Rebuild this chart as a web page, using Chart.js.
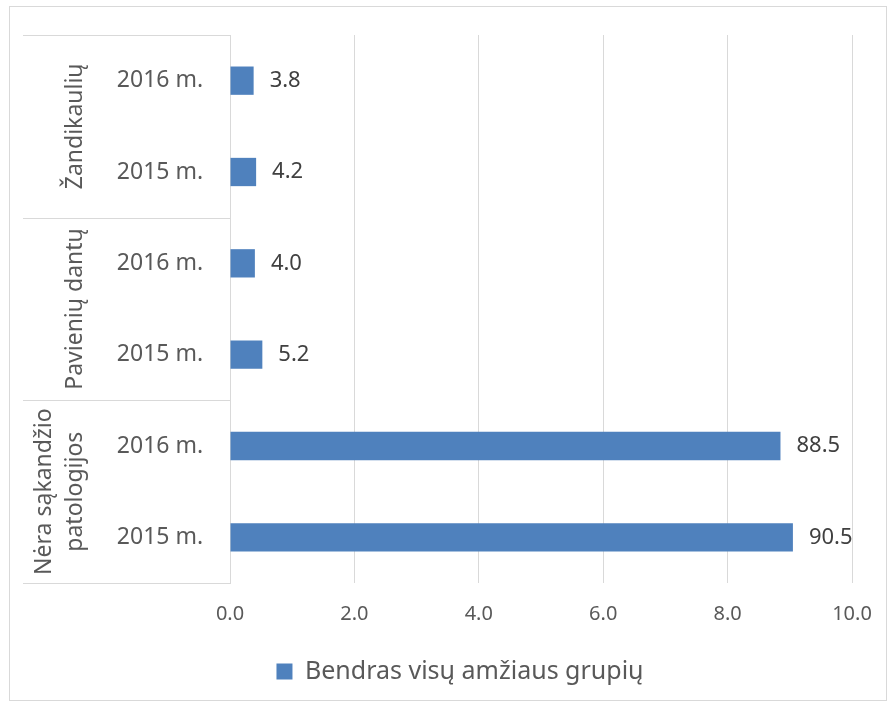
<!DOCTYPE html>
<html>
<head>
<meta charset="utf-8">
<script src="https://cdn.jsdelivr.net/npm/chart.js@4.4.1/dist/chart.umd.min.js"></script>
<style>
  html, body { margin: 0; padding: 0; background: #fff; }
  #wrap { width: 891px; height: 706px; }
</style>
</head>
<body>
<div id="wrap"><canvas id="chart"></canvas></div>
<script>
// groups from bottom to top, years inside each group
const groups = ['Nėra sąkandžio patologijos', 'Pavienių dantų', 'Žandikaulių'];
const groupLines = [['Nėra sąkandžio', 'patologijos'], ['Pavienių dantų'], ['Žandikaulių']];
const years = ['2015 m.', '2016 m.'];
// shown values (%), one per group x year
const values = [90.5, 88.5, 5.2, 4.0, 4.2, 3.8];
const xTicks = [0, 2, 4, 6, 8, 10];
const seriesName = 'Bendras visų amžiaus grupių';

const FONT = "'Noto Sans', 'Open Sans', sans-serif";
const TEXT = '#595959';
const GRID = '#d9d9d9';
const BAR = '#4f81bd';

const labels = [];
groups.forEach(g => years.forEach(y => labels.push(y)));

// the original axis runs 0..10, bars drawn at value / 10
const barData = values.map(v => v / 10);

// frame, group separators, group + year labels, value labels
const decor = {
    id: 'decor',
    beforeDraw(chart) {
        const ctx = chart.ctx;
        ctx.save();
        ctx.strokeStyle = GRID;
        ctx.lineWidth = 1;
        ctx.strokeRect(9.5, 6.5, 877, 694);
        ctx.restore();
    },
    afterDraw(chart) {
        const ctx = chart.ctx;
        const y = chart.scales.y;
        const area = chart.chartArea;
        const n = labels.length;
        ctx.save();

        // separators between groups
        ctx.strokeStyle = GRID;
        ctx.lineWidth = 1;
        const bounds = [area.bottom];
        for (let g = 1; g < groups.length; g++) {
            const i = g * years.length;
            bounds.push((y.getPixelForValue(i - 1) + y.getPixelForValue(i)) / 2);
        }
        bounds.push(area.top);
        bounds.forEach(b => {
            const yy = Math.round(b) + 0.5;
            ctx.beginPath();
            ctx.moveTo(23, yy);
            ctx.lineTo(area.left, yy);
            ctx.stroke();
        });

        // year labels
        ctx.fillStyle = TEXT;
        ctx.font = '23px ' + FONT;
        ctx.textAlign = 'center';
        ctx.textBaseline = 'middle';
        for (let i = 0; i < n; i++) {
            ctx.fillText(labels[i], 160, y.getPixelForValue(i));
        }

        // group labels, rotated
        ctx.textBaseline = 'alphabetic';
        groupLines.forEach((lines, g) => {
            const mid = (bounds[g] + bounds[g + 1]) / 2;
            ctx.save();
            ctx.translate(0, mid);
            ctx.rotate(-Math.PI / 2);
            const base = lines.length === 1 ? [82] : [51, 82];
            lines.forEach((t, k) => ctx.fillText(t, 0, base[k]));
            ctx.restore();
        });

        // value labels
        ctx.fillStyle = '#404040';
        ctx.font = '22px ' + FONT;
        ctx.textAlign = 'left';
        ctx.textBaseline = 'middle';
        chart.getDatasetMeta(0).data.forEach((bar, i) => {
            ctx.fillText(values[i].toFixed(1), bar.x + 16, bar.y);
        });
        ctx.restore();
    },
    afterLayout(chart) {
        // Excel puts the legend a bit right of centre
        const lg = chart.legend;
        lg.left += 29;
        lg.right += 29;
    }
};

new Chart(document.getElementById('chart'), {
    type: 'bar',
    data: {
        labels: labels,
        datasets: [{
            label: seriesName,
            data: barData,
            backgroundColor: BAR,
            borderWidth: 0,
            categoryPercentage: 1,
            barPercentage: 0.31
        }]
    },
    options: {
        indexAxis: 'y',
        responsive: true,
        maintainAspectRatio: false,
        animation: false,
        layout: { padding: { top: 35, left: 10, right: 39, bottom: 12 } },
        plugins: {
            legend: {
                position: 'bottom',
                labels: {
                    color: TEXT,
                    font: { family: FONT, size: 25 },
                    boxWidth: 16,
                    boxHeight: 16,
                    padding: 10
                }
            },
            tooltip: { enabled: false }
        },
        scales: {
            x: {
                min: 0,
                max: 10,
                afterBuildTicks: s => { s.ticks = xTicks.map(v => ({ value: v })); },
                afterFit: s => { s.height = 66; },
                grid: { color: GRID, drawTicks: false },
                border: { display: false },
                ticks: {
                    color: TEXT,
                    padding: 19,
                    font: { family: FONT, size: 20 },
                    callback: v => Number(v).toFixed(1)
                }
            },
            y: {
                reverse: true,
                afterFit: s => { s.width = 220; },
                grid: { display: false },
                border: { display: true, color: GRID },
                ticks: { display: false }
            }
        }
    },
    plugins: [decor]
});
</script>
</body>
</html>
